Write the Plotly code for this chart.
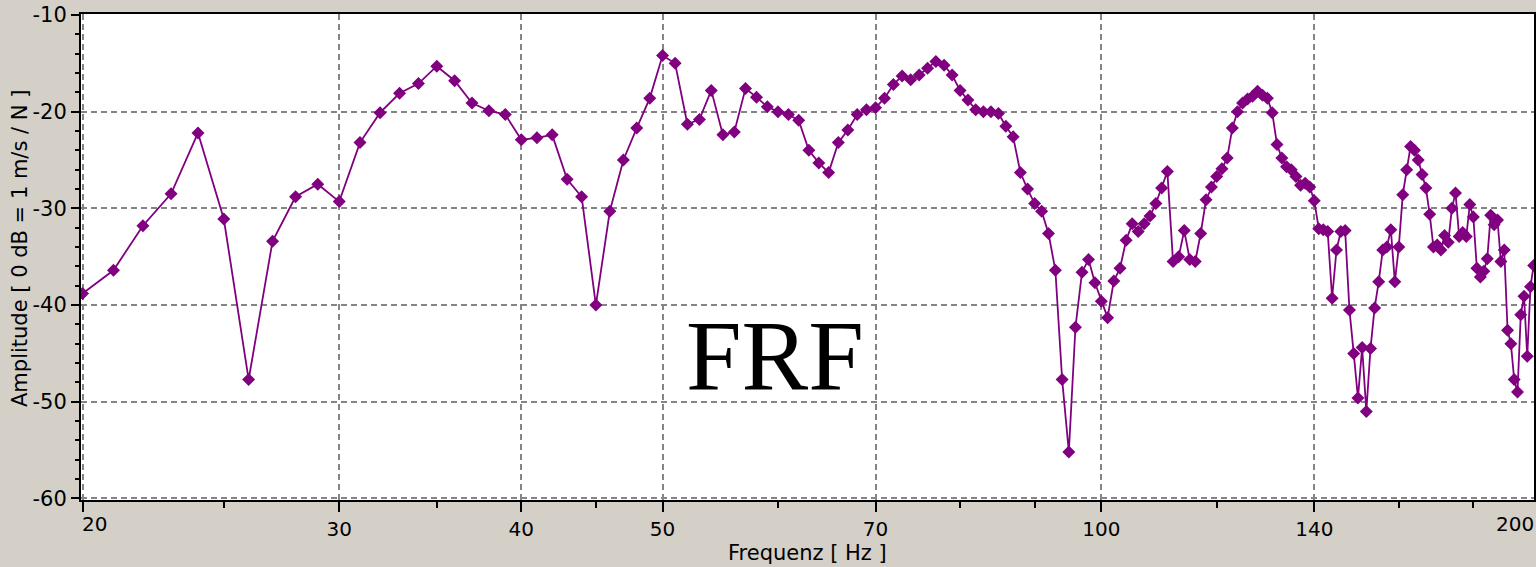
import math
import plotly.graph_objects as go

# ---- data -------------------------------------------------------------
freq_hz = [
    20, 21, 22, 23, 24, 25, 26, 27, 28, 29,
    30, 31, 32, 33, 34, 35, 36, 37, 38, 39,
    40, 41, 42, 43, 44, 45, 46, 47, 48, 49,
    50, 51, 52, 53, 54, 55, 56, 57, 58, 59,
    60, 61, 62, 63, 64, 65, 66, 67, 68, 69,
    70, 71, 72, 73, 74, 75, 76, 77, 78, 79,
    80, 81, 82, 83, 84, 85, 86, 87, 88, 89,
    90, 91, 92, 93, 94, 95, 96, 97, 98, 99,
    100, 101, 102, 103, 104, 105, 106, 107, 108, 109,
    110, 111, 112, 113, 114, 115, 116, 117, 118, 119,
    120, 121, 122, 123, 124, 125, 126, 127, 128, 129,
    130, 131, 132, 133, 134, 135, 136, 137, 138, 139,
    140, 141, 142, 143, 144, 145, 146, 147, 148, 149,
    150, 151, 152, 153, 154, 155, 156, 157, 158, 159,
    160, 161, 162, 163, 164, 165, 166, 167, 168, 169,
    170, 171, 172, 173, 174, 175, 176, 177, 178, 179,
    180, 181, 182, 183, 184, 185, 186, 187, 188, 189,
    190, 191, 192, 193, 194, 195, 196, 197, 198,
]

amplitude_db = [
    -38.8, -36.4, -31.8, -28.5, -22.2, -31.1, -47.7, -33.4, -28.8, -27.5,
    -29.3, -23.2, -20.1, -18.1, -17.1, -15.3, -16.8, -19.1, -19.9, -20.3,
    -22.9, -22.7, -22.4, -27.0, -28.8, -40.0, -30.3, -25.0, -21.7, -18.6,
    -14.2, -15.0, -21.3, -20.8, -17.8, -22.4, -22.1, -17.6, -18.5, -19.5,
    -20.0, -20.3, -20.9, -24.0, -25.3, -26.3, -23.2, -21.9, -20.3, -19.8,
    -19.6, -18.6, -17.2, -16.3, -16.7, -16.2, -15.5, -14.8, -15.2, -16.2,
    -17.8, -18.8, -19.8, -20.0, -20.0, -20.2, -21.5, -22.6, -26.3, -28.0,
    -29.5, -30.3, -32.6, -36.4, -47.7, -55.2, -42.3, -36.6, -35.3, -37.7,
    -39.6, -41.3, -37.5, -36.2, -33.3, -31.6, -32.4, -31.6, -30.8, -29.5,
    -27.9, -26.2, -35.5, -35.0, -32.3, -35.3, -35.5, -32.6, -29.1, -27.8,
    -26.7, -25.9, -24.8, -21.7, -20.0, -19.1, -18.7, -18.4, -17.9, -18.3,
    -18.6, -20.1, -23.4, -24.8, -25.7, -26.0, -26.7, -27.6, -27.4, -27.8,
    -29.2, -32.1, -32.2, -32.4, -39.3, -34.3, -32.4, -32.3, -40.5, -45.0,
    -49.6, -44.4, -51.0, -44.5, -40.3, -37.6, -34.3, -34.0, -32.2, -37.6,
    -34.0, -28.6, -26.0, -23.6, -24.0, -25.0, -26.5, -27.9, -30.6, -34.0,
    -33.8, -34.3, -32.8, -33.5, -30.0, -28.4, -32.9, -32.5, -32.9, -29.6,
    -30.9, -36.2, -37.1, -36.5, -35.2, -30.7, -31.7, -31.2, -35.5, -34.3,
    -42.6, -44.0, -47.7, -49.0, -41.0, -39.1, -45.3, -38.1, -35.9,
]

x_major_ticks = [20, 30, 40, 50, 70, 100, 140]
x_major_labels = ["", "30", "40", "50", "70", "100", "140"]
x_minor_ticks = [25, 35, 45, 60, 80, 90, 120, 160, 180]
y_major_ticks = [-60, -50, -40, -30, -20, -10]
y_major_labels = ["-60", "-50", "-40", "-30", "-20", "-10"]

x_title = "Frequenz [ Hz ]"
y_title = "Amplitude [ 0 dB = 1 m/s / N ]"
label_text = "FRF"

# ---- style --------------------------------------------------------------
W, H = 1536, 567
PLOT_L, PLOT_R, PLOT_T, PLOT_B = 81, 1536, 14, 500
BG = "#d4d0c8"
PURPLE = "#800080"
GRID = "#858585"
TICK_FONT = dict(family="DejaVu Sans", size=21, color="#000000")
XTICK_FONT = dict(family="DejaVu Sans", size=20, color="#000000")

fig = go.Figure()
fig.add_trace(go.Scatter(
    x=freq_hz, y=amplitude_db,
    mode="lines+markers",
    line=dict(color=PURPLE, width=1.8),
    marker=dict(symbol="diamond", size=10, color=PURPLE, line=dict(width=0)),
    showlegend=False,
    cliponaxis=True,
))

fig.update_layout(
    width=W, height=H,
    margin=dict(l=PLOT_L, r=W - PLOT_R, t=PLOT_T, b=H - PLOT_B, pad=0),
    paper_bgcolor=BG,
    plot_bgcolor="#ffffff",
    font=TICK_FONT,
)

fig.update_xaxes(
    type="log",
    range=[math.log10(19.95), math.log10(198.1)],
    tickmode="array",
    tickvals=x_major_ticks,
    ticktext=x_major_labels,
    ticks="outside", ticklen=10, tickwidth=2, tickcolor="#000000",
    tickfont=XTICK_FONT,
    showgrid=True, gridcolor=GRID, gridwidth=1.6, griddash="6px,4px",
    minor=dict(tickvals=x_minor_ticks, ticks="outside", ticklen=6,
               tickwidth=2, tickcolor="#000000", showgrid=False),
    showline=True, linecolor="#000000", linewidth=2, mirror=True,
    zeroline=False,
)

fig.update_yaxes(
    range=[-60.16, -9.9],
    tickmode="array",
    tickvals=y_major_ticks,
    ticktext=y_major_labels,
    ticks="outside", ticklen=8, tickwidth=2, tickcolor="#000000",
    tickfont=TICK_FONT,
    showgrid=True, gridcolor=GRID, gridwidth=1.6, griddash="6px,4px",
    minor=dict(dtick=2, ticks="outside", ticklen=4, tickwidth=2,
               tickcolor="#000000", showgrid=False),
    showline=True, linecolor="#000000", linewidth=2, mirror=True,
    zeroline=False,
)

# end labels of the frequency axis (kept inside the frame like the original)
fig.add_annotation(text="20", x=0.0, y=0, xref="paper", yref="paper",
                   xanchor="left", yanchor="top", yshift=-10, xshift=-1,
                   showarrow=False, font=XTICK_FONT)
fig.add_annotation(text="200", x=1.0, y=0, xref="paper", yref="paper",
                   xanchor="right", yanchor="top", yshift=-10, xshift=2,
                   showarrow=False, font=XTICK_FONT)

# axis titles
fig.add_annotation(text=x_title, x=0.5, y=0, xref="paper", yref="paper",
                   xanchor="center", yanchor="top", yshift=-39,
                   showarrow=False, font=TICK_FONT)
fig.add_annotation(text=y_title, x=0, y=0.5, xref="paper", yref="paper",
                   xanchor="center", yanchor="middle", xshift=-61, yshift=8,
                   textangle=-90, showarrow=False, font=TICK_FONT)

# big label in the plot
fig.add_annotation(text=label_text, x=0.4777, y=0.298, xref="paper", yref="paper",
                   xanchor="center", yanchor="middle", showarrow=False,
                   font=dict(family="Liberation Serif", size=100, color="#000000"))

fig.write_html("out.html")
